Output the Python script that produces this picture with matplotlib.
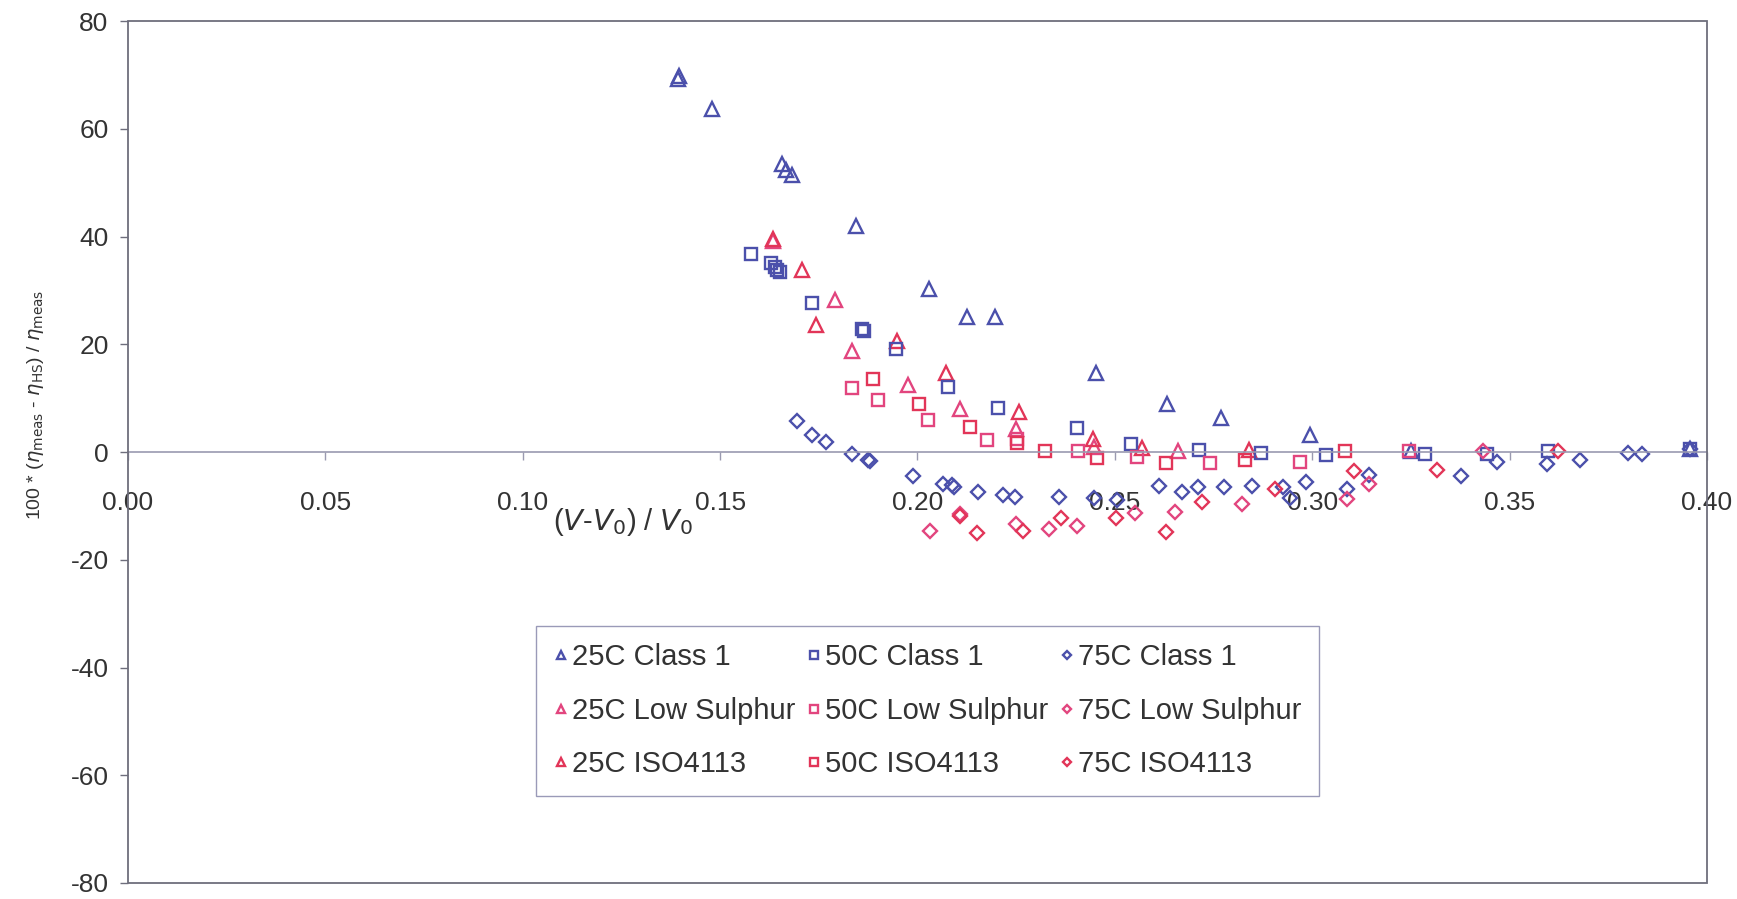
import matplotlib.pyplot as plt
from matplotlib.patches import Rectangle

plt.rcParams['font.family'] = ['Liberation Sans', 'DejaVu Sans']
plt.rcParams['axes.unicode_minus'] = False

# 25C
t25_c1_x = [0.1394, 0.1397, 0.1480, 0.1658, 0.1668, 0.1683, 0.1845, 0.2028, 0.2125, 0.2197,
            0.2453, 0.2632, 0.2769, 0.2995, 0.3249, 0.3958]
t25_c1_y = [69.3, 69.8, 63.7, 53.5, 52.4, 51.4, 41.9, 30.2, 25.1, 25.1,
            14.7, 9.0, 6.4, 3.2, 0.2, 0.5]
t25_ls_x = [0.1634, 0.1791, 0.1833, 0.1976, 0.2108, 0.2250, 0.2446, 0.2660]
t25_ls_y = [39.1, 28.3, 18.8, 12.5, 7.9, 4.2, 1.0, 0.1]
t25_iso_x = [0.1634, 0.1708, 0.1744, 0.1947, 0.2072, 0.2256, 0.2444, 0.2568, 0.2840]
t25_iso_y = [39.5, 33.7, 23.5, 20.7, 14.7, 7.5, 2.5, 0.8, 0.3]

# 50C
t50_c1_x = [0.1578, 0.1628, 0.1639, 0.1645, 0.1651, 0.1732, 0.1860, 0.1864, 0.1945, 0.2078,
            0.2205, 0.2405, 0.2540, 0.2712, 0.2869, 0.3035, 0.3285, 0.3443, 0.3598, 0.3958]
t50_c1_y = [36.8, 35.1, 34.4, 33.8, 33.4, 27.7, 22.8, 22.4, 19.2, 12.0,
            8.2, 4.5, 1.4, 0.3, -0.1, -0.5, -0.4, -0.4, 0.2, 0.5]
t50_ls_x = [0.1834, 0.1901, 0.2027, 0.2175, 0.2252, 0.2407, 0.2556, 0.2740, 0.2969, 0.3244]
t50_ls_y = [11.9, 9.6, 5.9, 2.2, 2.5, 0.1, -1.0, -2.1, -1.8, 0.2]
t50_iso_x = [0.1888, 0.2004, 0.2134, 0.2252, 0.2324, 0.2454, 0.2630, 0.2830, 0.3084]
t50_iso_y = [13.5, 8.9, 4.7, 1.6, 0.1, -1.2, -2.0, -1.4, 0.2]

# 75C
t75_c1_x = [0.1695, 0.1734, 0.1769, 0.1833, 0.1875, 0.1880, 0.1988, 0.2064, 0.2088, 0.2092,
            0.2154, 0.2216, 0.2246, 0.2358, 0.2446, 0.2505, 0.2612, 0.2671, 0.2710, 0.2776,
            0.2848, 0.2926, 0.2944, 0.2985, 0.3089, 0.3143, 0.3376, 0.3467, 0.3596, 0.3678,
            0.3800, 0.3836, 0.3958]
t75_c1_y = [5.7, 3.1, 1.9, -0.3, -1.4, -1.7, -4.4, -6.0, -6.2, -6.5,
            -7.4, -7.9, -8.3, -8.4, -8.6, -8.9, -6.3, -7.4, -6.5, -6.5,
            -6.3, -6.5, -8.5, -5.5, -6.8, -4.3, -4.4, -1.8, -2.3, -1.4,
            -0.1, -0.3, 0.5]
t75_ls_x = [0.2032, 0.2108, 0.2250, 0.2332, 0.2404, 0.2552, 0.2652, 0.2822, 0.3089, 0.3143, 0.3433]
t75_ls_y = [-14.6, -11.5, -13.4, -14.3, -13.7, -11.4, -11.1, -9.7, -8.8, -6.0, 0.2]
t75_iso_x = [0.2108, 0.2151, 0.2268, 0.2363, 0.2502, 0.2629, 0.2720, 0.2905, 0.3107, 0.3316, 0.3622]
t75_iso_y = [-11.8, -15.1, -14.6, -12.3, -12.2, -14.8, -9.2, -6.8, -3.6, -3.4, 0.2]

blue = '#4b50ab'
pink = '#e2457e'
red = '#e23558'
grey = '#6e6e7c'
txt = '#333333'

series = [
    (t25_c1_x, t25_c1_y, '^', 10, blue, '25C Class 1'),
    (t25_ls_x, t25_ls_y, '^', 10, pink, '25C Low Sulphur'),
    (t25_iso_x, t25_iso_y, '^', 10, red, '25C ISO4113'),
    (t50_c1_x, t50_c1_y, 's', 9, blue, '50C Class 1'),
    (t50_ls_x, t50_ls_y, 's', 9, pink, '50C Low Sulphur'),
    (t50_iso_x, t50_iso_y, 's', 9, red, '50C ISO4113'),
    (t75_c1_x, t75_c1_y, 'D', 7.5, blue, '75C Class 1'),
    (t75_ls_x, t75_ls_y, 'D', 7.5, pink, '75C Low Sulphur'),
    (t75_iso_x, t75_iso_y, 'D', 7.5, red, '75C ISO4113'),
]

fig = plt.figure(figsize=(17.37, 8.99), dpi=100)
ax = fig.add_axes([0.0737, 0.0178, 0.909, 0.9588])

for x, y, m, ms, c, lab in series:
    ax.plot(x, y, linestyle='none', marker=m, markersize=ms, markerfacecolor='none',
            markeredgecolor=c, markeredgewidth=1.7, label=lab)

ax.set_xlim(0, 0.40)
ax.set_ylim(-80, 80)
ax.set_xticks([0.00, 0.05, 0.10, 0.15, 0.20, 0.25, 0.30, 0.35, 0.40])
ax.set_xticklabels(['%.2f' % v for v in ax.get_xticks()])
ax.set_yticks(range(-80, 81, 20))

for s in ['top', 'right', 'left']:
    ax.spines[s].set_visible(False)
ax.spines['bottom'].set_position(('data', 0))
ax.spines['bottom'].set_color('#9a9ab0')
ax.spines['bottom'].set_linewidth(1.2)
ax.add_patch(Rectangle((0, 0), 1, 1, transform=ax.transAxes, fill=False,
                       edgecolor=grey, linewidth=1.3, clip_on=False, zorder=5))

ax.tick_params(axis='x', direction='out', length=6, width=1, color='#9a9ab0',
               pad=22, labelsize=19, labelcolor=txt)
ax.tick_params(axis='y', direction='out', length=6, width=1, color=grey,
               pad=8, labelsize=19, labelcolor=txt)

ax.set_ylabel(r'100 * ($\eta_{\rm meas}$ - $\eta_{\rm HS}$) / $\eta_{\rm meas}$',
              fontsize=14, color=txt)
ax.yaxis.set_label_coords(-0.052, 0.555)
ax.text(0.1254, -13.0, r'($V$-$V_0$) / $V_0$', fontsize=21, color=txt,
        ha='center', va='center')

leg = ax.legend(loc='center', bbox_to_anchor=(0.5064, 0.1998), ncol=3, fontsize=21,
                markerscale=0.6, handlelength=0.5, handletextpad=0.12,
                columnspacing=0.4, labelspacing=0.88, borderpad=0.6,
                fancybox=False, framealpha=1, edgecolor='#9a9ab8', labelcolor=txt)
leg.get_frame().set_linewidth(1.0)

plt.savefig('out.png', dpi=100)
